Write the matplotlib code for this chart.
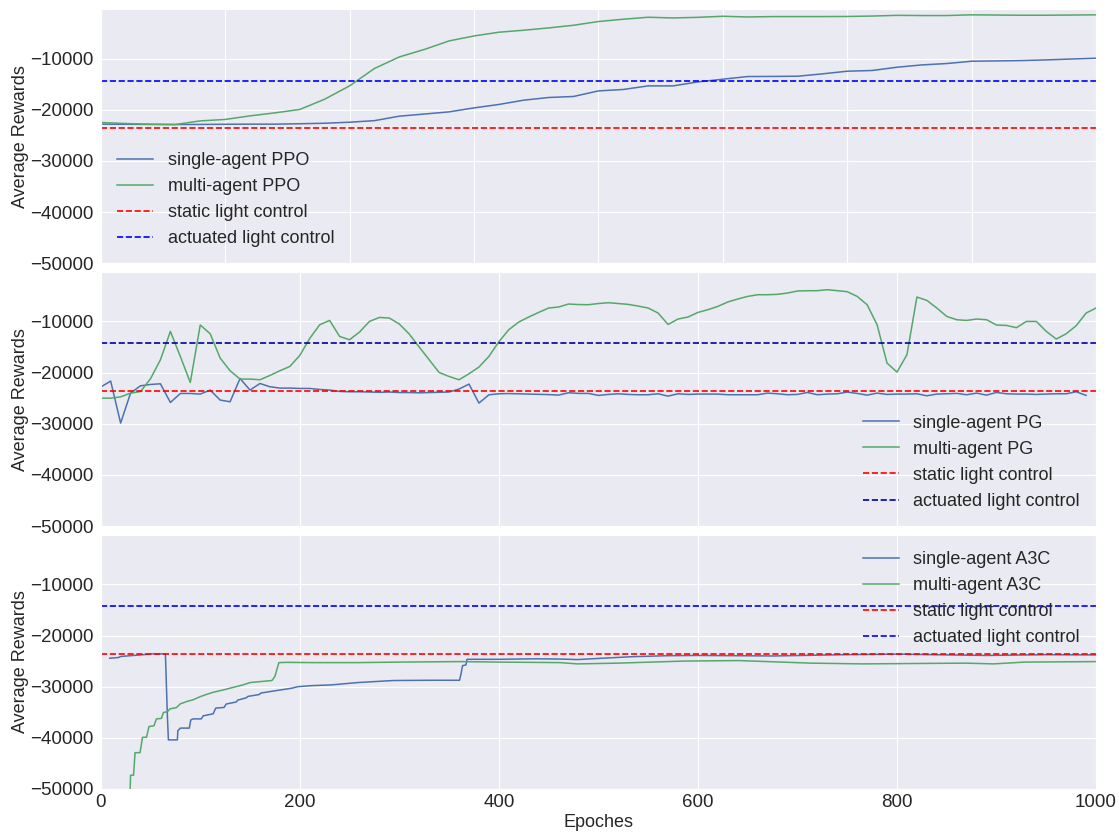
import numpy as np
import matplotlib
matplotlib.use("Agg")
import matplotlib.pyplot as plt

plt.rcParams['font.family'] = ['Liberation Sans', 'DejaVu Sans']
plt.rcParams['axes.facecolor'] = '#EAEAF2'
plt.rcParams['axes.edgecolor'] = 'white'
plt.rcParams['grid.color'] = 'white'
plt.rcParams['axes.grid'] = True
plt.rcParams['xtick.major.size'] = 0
plt.rcParams['ytick.major.size'] = 0
plt.rcParams['xtick.color'] = '.15'
plt.rcParams['ytick.color'] = '.15'
plt.rcParams['axes.labelcolor'] = '.15'
plt.rcParams['text.color'] = '.15'

# baselines
static_reward = -23550
actuated_reward = -14300

# PPO, one point every 25 epochs
ppo_epochs = np.arange(0, 1001, 25)
ppo_single = [-22830, -22850, -22880, -22900, -22880, -22850, -22830, -22830,
              -22750, -22650, -22450, -22140, -21270, -20850, -20430, -19650,
              -18980, -18140, -17620, -17420, -16330, -16050, -15350, -15350,
              -14570, -14040, -13520, -13500, -13460, -13000, -12480, -12340,
              -11700, -11250, -10980, -10530, -10470, -10400, -10270, -10100,
              -9940]
ppo_multi = [-22500, -22700, -22850, -22900, -22190, -21910, -21210, -20620,
             -19960, -17950, -15350, -11950, -9690, -8240, -6560, -5590,
             -4860, -4470, -4020, -3500, -2770, -2320, -1930, -2070,
             -1950, -1740, -1880, -1800, -1800, -1800, -1780, -1700,
             -1560, -1600, -1600, -1460, -1500, -1540, -1540, -1500,
             -1460]

# PG, one point every 10 epochs
pg_single_epochs = np.arange(0, 991, 10)
pg_single = [-22830, -21660, -29870, -24000, -22580, -22320, -22190, -25840, -24080, -24080,
             -24200, -23420, -25370, -25700, -21150, -23420, -22130, -22770, -23030, -23030,
             -23100, -23100, -23300, -23420, -23680, -23750, -23750, -23800, -23850, -23800,
             -23900, -23900, -23950, -23900, -23850, -23800, -23220, -22250, -25960, -24340,
             -24140, -24100, -24150, -24200, -24250, -24300, -24400, -23940, -24070, -24070,
             -24460, -24270, -24140, -24270, -24330, -24330, -24140, -24600, -24140, -24270,
             -24200, -24200, -24200, -24330, -24330, -24330, -24330, -24010, -24140, -24330,
             -24270, -23880, -24330, -24200, -24140, -23810, -24070, -24400, -24010, -24270,
             -24200, -24200, -24140, -24530, -24200, -24140, -24070, -24330, -24010, -24400,
             -23880, -24140, -24200, -24200, -24270, -24200, -24140, -24140, -23750, -24460]
pg_multi_epochs = np.arange(0, 1001, 10)
pg_multi = [-25000, -25000, -24740, -24020, -23700, -21210, -17490, -11950, -16840, -21930,
            -10700, -12410, -17160, -19640, -21270, -21270, -21400, -20560, -19640, -18800,
            -16650, -13320, -10650, -9800, -12930, -13580, -12080, -10000, -9220, -9340,
            -10510, -12470, -15010, -17490, -19980, -20760, -21400, -20230, -18920, -16840,
            -13970, -11620, -10120, -9140, -8240, -7380, -7180, -6600, -6700, -6730,
            -6500, -6340, -6500, -6670, -7000, -7380, -8360, -10590, -9530, -9140,
            -8240, -7710, -7060, -6200, -5620, -5110, -4780, -4780, -4700, -4450,
            -4050, -4000, -3990, -3800, -3990, -4190, -5110, -6730, -10650, -18140,
            -19900, -16510, -5230, -5890, -7380, -9020, -9670, -9800, -9530, -9670,
            -10700, -10780, -11230, -10000, -10000, -11950, -13440, -12410, -10840, -8360,
            -7380]

# A3C, breakpoints of the running curves
a3c_single_epochs = [9, 18, 20, 33, 43, 50, 65, 67, 68, 77, 77.5, 80, 89, 90.5, 93, 101,
                     103, 113, 115.5, 124, 126, 136, 138, 146, 148, 159, 161, 172, 182,
                     192, 198, 212, 232, 258, 294, 330, 360.5, 362, 363.5, 367, 368, 401,
                     437, 461, 479, 533, 569, 600, 676, 748, 800, 890, 950, 1000]
a3c_single = [-24440, -24300, -24100, -23900, -23750, -23600, -23600, -35800, -40400,
              -40400, -38600, -38100, -38100, -36500, -36300, -36300, -35700, -35300,
              -34200, -34050, -33400, -33000, -32600, -32200, -31900, -31550, -31250,
              -30900, -30600, -30300, -30000, -29800, -29650, -29200, -28800, -28750,
              -28750, -27500, -25900, -25750, -24650, -24650, -24550, -24600, -24700,
              -24150, -23950, -23900, -24000, -23750, -23650, -23900, -23750, -23800]
a3c_multi_epochs = [28, 30, 33, 34.5, 39.5, 42, 46, 48.5, 53.5, 56, 61, 63, 67, 69.5, 76,
                    80, 86.5, 93, 100, 106.5, 113, 123, 133, 143, 150, 161, 172, 175, 179,
                    187, 214, 258, 300, 360, 401, 461, 479, 520, 586, 641, 713, 766, 868,
                    897, 928, 1000]
a3c_multi = [-60000, -47300, -47300, -42900, -42900, -39900, -39900, -37800, -37650,
             -36300, -36200, -35050, -34900, -34350, -34100, -33350, -32900, -32550,
             -31950, -31500, -31100, -30650, -30150, -29650, -29200, -29000, -28800,
             -28000, -25300, -25250, -25300, -25300, -25200, -25100, -25200, -25300,
             -25550, -25400, -25000, -24900, -25400, -25550, -25400, -25550, -25200,
             -25100]

fig, axes = plt.subplots(3, 1, figsize=(11.19, 8.32), dpi=100)
fig.subplots_adjust(left=0.09, right=0.9795, top=0.989, bottom=0.0517, hspace=0.035)

blue = '#4C72B0'
green = '#55A868'
lw = 1.1
dlw = 1.2

ax = axes[0]
ax.plot(ppo_epochs, ppo_single, color=blue, lw=lw, label='single-agent PPO')
ax.plot(ppo_epochs, ppo_multi, color=green, lw=lw, label='multi-agent PPO')
ax.axhline(static_reward, color='red', ls='--', lw=dlw, label='static light control')
ax.axhline(actuated_reward, color='blue', ls='--', lw=dlw, label='actuated light control')
ax.set_xticks(np.arange(0, 1001, 125))
ax.legend(loc='lower left', fontsize=13, frameon=False)

ax = axes[1]
ax.plot(pg_single_epochs, pg_single, color=blue, lw=lw, label='single-agent PG')
ax.plot(pg_multi_epochs, pg_multi, color=green, lw=lw, label='multi-agent PG')
ax.axhline(static_reward, color='red', ls='--', lw=dlw, label='static light control')
ax.axhline(actuated_reward, color='#0000a0', ls='--', lw=dlw, label='actuated light control')
ax.set_xticks(np.arange(0, 1001, 200))
ax.legend(loc='lower right', fontsize=13, frameon=False)

ax = axes[2]
ax.plot(a3c_single_epochs, a3c_single, color=blue, lw=lw, label='single-agent A3C')
ax.plot(a3c_multi_epochs, a3c_multi, color=green, lw=lw, label='multi-agent A3C')
ax.axhline(static_reward, color='red', ls='--', lw=dlw, label='static light control')
ax.axhline(actuated_reward, color='blue', ls='--', lw=dlw, label='actuated light control')
ax.set_xticks(np.arange(0, 1001, 200))
ax.legend(loc='upper right', fontsize=13, frameon=False)
ax.set_xlabel('Epoches', fontsize=13, labelpad=2)

for i, ax in enumerate(axes):
    ax.set_xlim(0, 1000)
    ax.set_ylim(-50000, -350)
    ax.set_yticks(np.arange(-50000, -9999, 10000))
    ax.set_ylabel('Average Rewards', fontsize=13, labelpad=1)
    ax.tick_params(labelsize=13.5)
    ax.tick_params(axis='y', pad=5)
    if i < 2:
        ax.tick_params(labelbottom=False)

fig.savefig('out.png', dpi=100)
